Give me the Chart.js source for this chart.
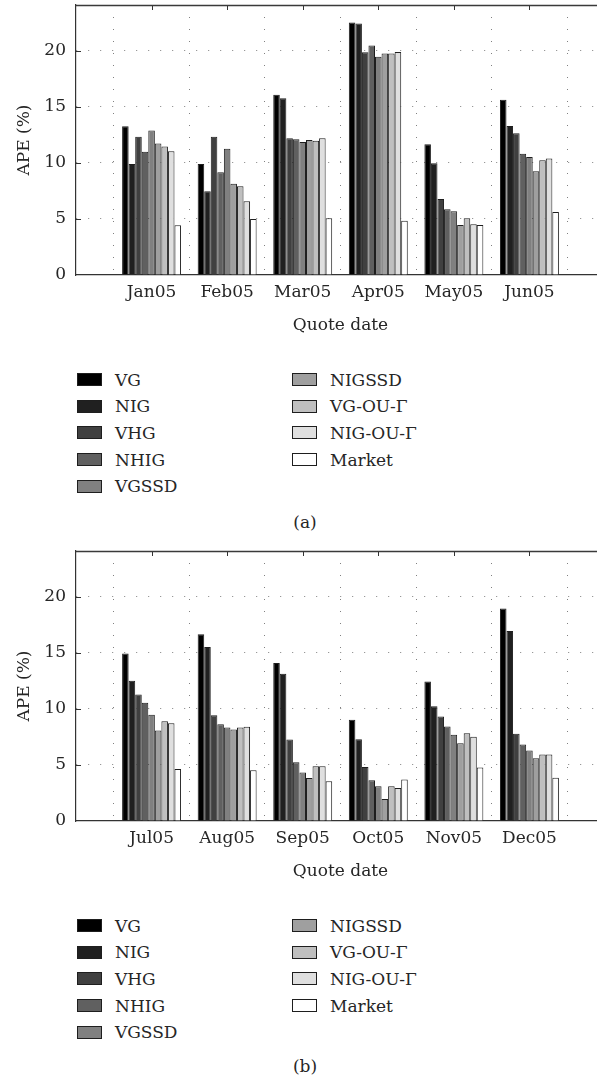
<!DOCTYPE html>
<html>
<head>
<meta charset="utf-8">
<script src="https://cdn.jsdelivr.net/npm/chart.js@4/dist/chart.umd.min.js"></script>
<style>
  html, body { margin:0; padding:0; background:#fff; }
  body { width:597px; height:1080px; overflow:hidden; position:relative; font-family:"DejaVu Serif", serif; color:#262626; }
  .panel { position:absolute; left:0; width:610px; height:546px; }
  .panel canvas { position:absolute; left:0; top:0; }
  .lg { position:absolute; height:20px; line-height:20px; font-size:17px; white-space:nowrap; }
  .lg .sw { position:absolute; left:0; top:3.5px; width:23px; height:11px; border:1px solid #1e1e1e; }
  .lg .tx { position:absolute; left:38px; top:0; }
  .cap { position:absolute; width:60px; margin-left:-30px; text-align:center; font-size:17px; line-height:20px; height:20px; }
</style>
</head>
<body>
<div class="panel" id="panelA" style="top:0px"><canvas id="chartA" width="610" height="340"></canvas></div>
<div class="panel" id="panelB" style="top:546px"><canvas id="chartB" width="610" height="340"></canvas></div>
<script>
// ---- data ----
const seriesNames = ['VG', 'NIG', 'VHG', 'NHIG', 'VGSSD', 'NIGSSD', 'VG-OU-\u0393', 'NIG-OU-\u0393', 'Market'];
const seriesColors = ['#000000', '#202020', '#404040', '#606060', '#808080', '#9f9f9f', '#bfbfbf', '#dfdfdf', '#ffffff'];

const monthsA = ['Jan05', 'Feb05', 'Mar05', 'Apr05', 'May05', 'Jun05'];
const monthsB = ['Jul05', 'Aug05', 'Sep05', 'Oct05', 'Nov05', 'Dec05'];

// panel (a)
const vgA     = [13.27, 9.91, 16.10, 22.53, 11.67, 15.65];
const nigA    = [9.91, 7.47, 15.77, 22.44, 9.97, 13.30];
const vhgA    = [12.35, 12.35, 12.20, 19.88, 6.79, 12.65];
const nhigA   = [11.01, 9.17, 12.11, 20.48, 5.86, 10.83];
const vgssdA  = [12.89, 11.28, 11.88, 19.49, 5.68, 10.54];
const nigssdA = [11.73, 8.15, 12.05, 19.76, 4.46, 9.26];
const vgouA   = [11.46, 7.92, 11.99, 19.76, 5.06, 10.24];
const nigouA  = [11.04, 6.58, 12.20, 19.91, 4.52, 10.39];
const marketA = [4.43, 5.00, 5.06, 4.85, 4.46, 5.63];

// panel (b)
const vgB     = [14.96, 16.66, 14.10, 9.03, 12.46, 18.96];
const nigB    = [12.52, 15.53, 13.14, 7.30, 10.25, 16.96];
const vhgB    = [11.30, 9.45, 7.27, 4.83, 9.33, 7.78];
const nhigB   = [10.55, 8.64, 5.25, 3.64, 8.44, 6.83];
const vgssdB  = [9.48, 8.35, 4.32, 3.10, 7.69, 6.29];
const nigssdB = [8.08, 8.17, 3.84, 1.97, 6.94, 5.60];
const vgouB   = [8.91, 8.35, 4.89, 3.10, 7.84, 5.93];
const nigouB  = [8.73, 8.41, 4.89, 2.95, 7.51, 5.93];
const marketB = [4.65, 4.53, 3.55, 3.70, 4.77, 3.87];

const yTickValues = [0, 5, 10, 15, 20];
const yMax = 24.1;
const xTitle = 'Quote date';
const yTitle = 'APE (%)';

// ---- drawing ----
const FONT = '"DejaVu Serif", serif';
const FS = 17;
Chart.defaults.font.family = FONT;
Chart.defaults.font.size = FS;
Chart.defaults.color = '#262626';

const frameTicks = {
  id: 'frameTicks',
  beforeDatasetsDraw(chart) {
    const {ctx, chartArea: a, scales: {x, y}} = chart;
    ctx.save();
    ctx.strokeStyle = '#333';
    ctx.lineWidth = 1;
    ctx.beginPath();
    yTickValues.forEach(v => {
      if (v === 0) return;
      const py = Math.round(y.getPixelForValue(v)) + 0.5;
      ctx.moveTo(a.left, py); ctx.lineTo(a.left + 5, py);
      ctx.moveTo(a.right, py); ctx.lineTo(a.right - 5, py);
    });
    for (let i = 1; i < x.getLabels().length - 1; i++) {
      const px = Math.round(x.getPixelForValue(i)) + 0.5;
      ctx.moveTo(px, a.top); ctx.lineTo(px, a.top + 5);
      ctx.moveTo(px, a.bottom); ctx.lineTo(px, a.bottom - 5);
    }
    ctx.stroke();
    ctx.lineWidth = 1.5;
    ctx.strokeStyle = '#3a3a3a';
    ctx.beginPath();
    ctx.moveTo(a.left, a.top + 0.5); ctx.lineTo(a.right, a.top + 0.5);
    ctx.moveTo(a.right - 0.5, a.top); ctx.lineTo(a.right - 0.5, a.bottom);
    ctx.stroke();
    ctx.restore();
  }
};

function pad(arr) { return [null].concat(arr, [null]); }

function makeChart(canvasId, months, series) {
  const labels = [''].concat(months, ['']);
  const datasets = series.map((vals, i) => ({
    label: seriesNames[i],
    data: pad(vals),
    backgroundColor: seriesColors[i],
    borderColor: '#1e1e1e',
    borderWidth: 1,
    borderSkipped: 'start',
    categoryPercentage: 0.78,
    barPercentage: 1.0
  }));
  return new Chart(document.getElementById(canvasId), {
    type: 'bar',
    data: { labels, datasets },
    plugins: [frameTicks],
    options: {
      responsive: false,
      animation: false,
      devicePixelRatio: 1,
      layout: { padding: { top: 5, right: 5, left: 0, bottom: 0 } },
      plugins: { legend: { display: false }, tooltip: { enabled: false } },
      scales: {
        x: {
          type: 'category',
          offset: false,
          grid: { color: '#808080', lineWidth: 1, drawTicks: false, display: true },
          border: { display: true, color: '#333', width: 1.2, dash: [1, 11] },
          ticks: { autoSkip: false, maxRotation: 0, minRotation: 0, padding: 7, color: '#262626', font: { size: FS } },
          title: { display: true, text: xTitle, color: '#262626', font: { size: FS }, padding: { top: 4, bottom: 4 } },
          afterFit(s) { s.height = 65; s.paddingLeft = 0; s.paddingRight = 0; }
        },
        y: {
          min: 0, max: yMax,
          grid: { color: (c) => (c.tick && c.tick.value === 0) ? 'rgba(0,0,0,0)' : '#808080', lineWidth: 1, drawTicks: false },
          border: { display: true, color: '#333', width: 1.2, dash: [1, 11] },
          afterBuildTicks(s) { s.ticks = yTickValues.map(v => ({ value: v })); },
          ticks: { padding: 10, color: '#262626', font: { size: FS } },
          title: { display: true, text: yTitle, color: '#262626', font: { size: FS }, padding: { top: 14, bottom: 14 } },
          afterFit(s) { s.width = 76; s.paddingTop = 0; s.paddingBottom = 0; }
        }
      }
    }
  });
}

function makeLegend(panelId, captionText, rowTop, captionY) {
  const panel = document.getElementById(panelId);
  seriesNames.forEach((name, i) => {
    const col = i < 5 ? 0 : 1;
    const row = i < 5 ? i : i - 5;
    const d = document.createElement('div');
    d.className = 'lg';
    d.style.left = (col === 0 ? 77 : 292) + 'px';
    d.style.top = (rowTop + row * 26.7 - 10) + 'px';
    const sw = document.createElement('div');
    sw.className = 'sw';
    sw.style.background = seriesColors[i];
    const tx = document.createElement('span');
    tx.className = 'tx';
    tx.textContent = name;
    d.appendChild(sw); d.appendChild(tx);
    panel.appendChild(d);
  });
  const c = document.createElement('div');
  c.className = 'cap';
  c.style.left = '305px';
  c.style.top = (captionY - 10) + 'px';
  c.textContent = captionText;
  panel.appendChild(c);
}

makeChart('chartA', monthsA, [vgA, nigA, vhgA, nhigA, vgssdA, nigssdA, vgouA, nigouA, marketA]);
makeChart('chartB', monthsB, [vgB, nigB, vhgB, nhigB, vgssdB, nigssdB, vgouB, nigouB, marketB]);
makeLegend('panelA', '(a)', 379.5, 522);
makeLegend('panelB', '(b)', 379.5, 520);
</script>
</body>
</html>
